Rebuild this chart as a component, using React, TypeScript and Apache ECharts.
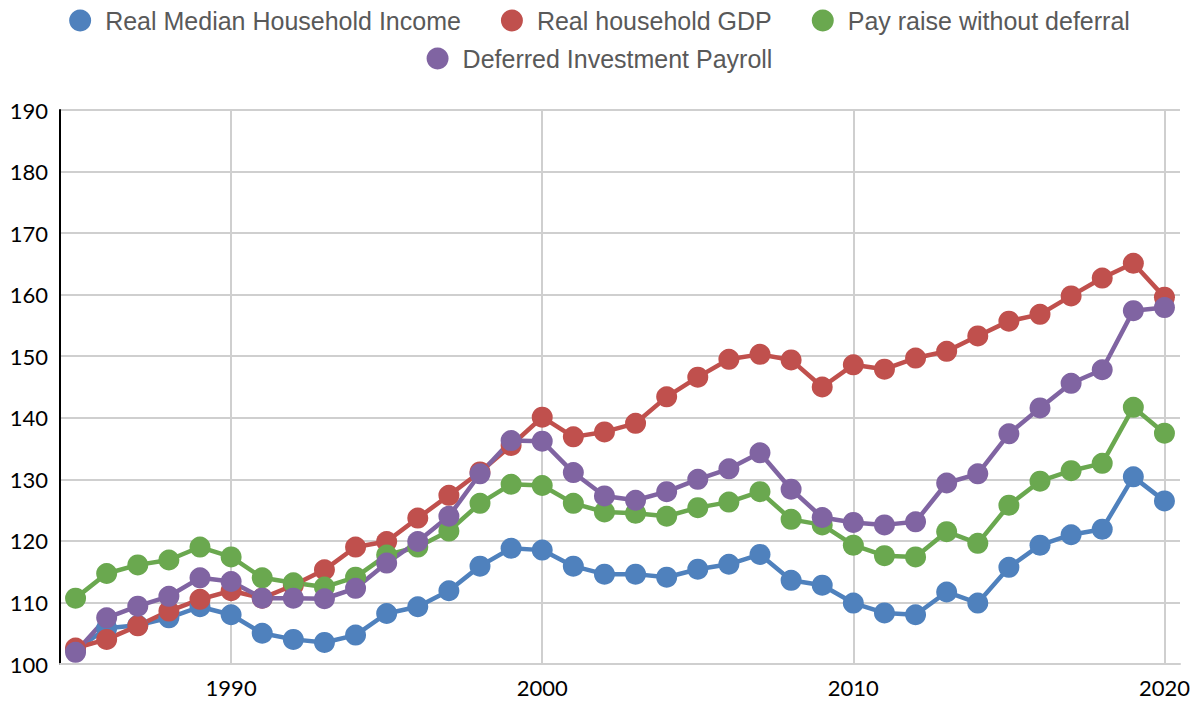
import React, { useEffect, useRef } from "react";
import * as echarts from "echarts";

const years: number[] = [];
for (let y = 1985; y <= 2020; y++) years.push(y);

const seriesNames = [
  "Real Median Household Income",
  "Real household GDP",
  "Pay raise without deferral",
  "Deferred Investment Payroll",
];

const medianIncome = [
  102.3, 105.8, 106.3, 107.5, 109.3, 108.0, 105.0, 104.0, 103.5, 104.7, 108.2, 109.3,
  111.9, 115.9, 118.8, 118.5, 115.9, 114.6, 114.6, 114.1, 115.4, 116.2, 117.8, 113.6,
  112.8, 109.9, 108.3, 108.0, 111.7, 109.9, 115.7, 119.3, 121.0, 121.9, 130.4, 126.5,
];
const householdGdp = [
  102.6, 104.0, 106.2, 108.6, 110.5, 111.9, 110.7, 112.8, 115.3, 119.0, 119.9, 123.7,
  127.4, 131.2, 135.5, 140.1, 136.9, 137.7, 139.1, 143.4, 146.6, 149.5, 150.3, 149.4,
  145.0, 148.6, 147.9, 149.7, 150.8, 153.3, 155.7, 156.8, 159.8, 162.7, 165.1, 159.6,
];
const payRaise = [
  110.7, 114.7, 116.1, 116.9, 119.0, 117.4, 114.0, 113.2, 112.5, 114.1, 117.7, 119.0,
  121.6, 126.1, 129.2, 129.0, 126.1, 124.7, 124.5, 124.0, 125.4, 126.3, 128.0, 123.5,
  122.6, 119.3, 117.6, 117.4, 121.5, 119.6, 125.8, 129.7, 131.4, 132.6, 141.7, 137.5,
];
const deferredPayroll = [
  101.9, 107.5, 109.4, 111.0, 114.0, 113.4, 110.7, 110.7, 110.6, 112.3, 116.4, 119.9,
  124.0, 130.9, 136.3, 136.2, 131.1, 127.3, 126.6, 128.0, 130.0, 131.7, 134.3, 128.4,
  123.8, 123.0, 122.6, 123.1, 129.4, 130.9, 137.4, 141.6, 145.6, 147.8, 157.4, 157.9,
];

const xTickLabels = [1990, 2000, 2010, 2020];
const colors = ["#4F81BD", "#C0504D", "#6AA84F", "#8064A2"];
const allValues = [medianIncome, householdGdp, payRaise, deferredPayroll];

export default function App() {
  const ref = useRef<HTMLDivElement>(null);
  useEffect(() => {
    if (!ref.current) return;
    const chart = echarts.init(ref.current, undefined, { renderer: "svg" });
    const gridColor = "#CFCFCF";
    const legendText = {
      color: "#595959",
      fontSize: 25,
      fontFamily: "Liberation Sans, Arial, sans-serif",
    };
    const legendBase = {
      left: "center",
      icon: "circle",
      itemWidth: 40,
      itemHeight: 22,
      itemGap: 40,
      itemStyle: { borderWidth: 0 },
      textStyle: legendText,
    };
    chart.setOption({
      animation: false,
      backgroundColor: "#ffffff",
      color: colors,
      legend: [
        { ...legendBase, data: seriesNames.slice(0, 3), top: 3 },
        { ...legendBase, data: seriesNames.slice(3), top: 41 },
      ],
      grid: { left: 60, right: 19, top: 110, bottom: 38, containLabel: false },
      xAxis: {
        type: "value",
        min: 1984.5,
        max: 2020.5,
        axisLine: { show: true, lineStyle: { color: gridColor, width: 2 } },
        axisTick: { show: false, customValues: xTickLabels },
        axisLabel: {
          customValues: xTickLabels,
          formatter: (v: number) => String(v),
          color: "#000",
          fontSize: 22,
          fontFamily: "Lato, sans-serif",
          margin: 12,
        },
        splitLine: { show: true, lineStyle: { color: gridColor, width: 2 } },
      },
      yAxis: {
        type: "value",
        min: 100,
        max: 190,
        interval: 10,
        axisLine: { show: true, lineStyle: { color: "#000", width: 2 } },
        axisTick: { show: false },
        axisLabel: {
          color: "#000",
          fontSize: 22,
          fontFamily: "Lato, sans-serif",
          margin: 12,
        },
        splitLine: { show: true, lineStyle: { color: gridColor, width: 2 } },
      },
      series: seriesNames.map((name, i) => ({
        name,
        type: "line",
        data: years.map((yr, j) => [yr, allValues[i][j]]),
        symbol: "circle",
        symbolSize: 21,
        showSymbol: true,
        lineStyle: { width: 4.5, color: colors[i] },
        itemStyle: { color: colors[i], borderWidth: 0 },
        emphasis: { disabled: true },
      })),
    });
    return () => chart.dispose();
  }, []);
  return (
    <div
      ref={ref}
      style={{ position: "fixed", left: 0, top: 0, width: 1199, height: 702 }}
    />
  );
}
